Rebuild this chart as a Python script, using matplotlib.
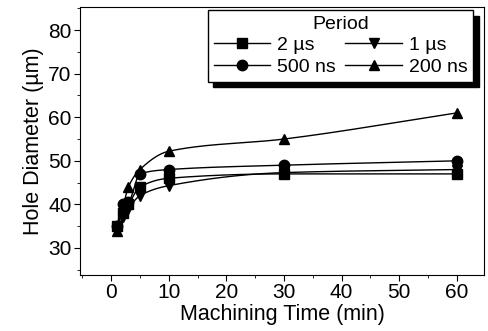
import numpy as np
import matplotlib
matplotlib.use("Agg")
import matplotlib.pyplot as plt
from matplotlib.ticker import MultipleLocator

plt.rcParams['font.family'] = ['Liberation Sans', 'DejaVu Sans']

time_min = [1, 2, 3, 5, 10, 30, 60]
d_2us = [35, 38, 40, 44, 46, 47, 47]
d_1us = [34, 37, 39, 42, 44.3, 47.3, 48]
d_500ns = [35, 40, 40.5, 47, 48, 49, 50]
d_200ns = [34, 39, 44, 48, 52.2, 55, 61]

# legend order (column-wise fill): 2 µs, 500 ns | 1 µs, 200 ns
series = [
    ("2 \u00b5s", d_2us, 's'),
    ("500 ns", d_500ns, 'o'),
    ("1 \u00b5s", d_1us, 'v'),
    ("200 ns", d_200ns, '^'),
]


def pchip(x, y, xs):
    x = np.asarray(x, float); y = np.asarray(y, float)
    h = np.diff(x); d = np.diff(y) / h
    n = len(x); m = np.zeros(n)
    for k in range(1, n - 1):
        if d[k - 1] * d[k] > 0:
            w1 = 2 * h[k] + h[k - 1]; w2 = h[k] + 2 * h[k - 1]
            m[k] = (w1 + w2) / (w1 / d[k - 1] + w2 / d[k])
    m[0] = d[0]; m[-1] = d[-1]
    idx = np.clip(np.searchsorted(x, xs) - 1, 0, n - 2)
    t = (xs - x[idx]) / h[idx]
    h00 = 2 * t**3 - 3 * t**2 + 1; h10 = t**3 - 2 * t**2 + t
    h01 = -2 * t**3 + 3 * t**2; h11 = t**3 - t**2
    return h00 * y[idx] + h10 * h[idx] * m[idx] + h01 * y[idx + 1] + h11 * h[idx] * m[idx + 1]


fig = plt.figure(figsize=(4.89, 3.31), dpi=100)
ax = fig.add_axes([80 / 489, 56 / 331, 404 / 489, 268 / 331])

xs = np.linspace(min(time_min), max(time_min), 400)
for label, vals, mk in series:
    ax.plot(xs, pchip(time_min, vals, xs), color='black', lw=1.0)
    ax.plot(time_min, vals, linestyle='none', marker=mk, color='black', markersize=7.5)
    ax.plot([], [], color='black', lw=1.0, marker=mk, markersize=7.5, label=label)

ax.set_xlim(-5.4, 64.7)
ax.set_ylim(23.8, 85.3)
ax.xaxis.set_major_locator(MultipleLocator(10))
ax.xaxis.set_minor_locator(MultipleLocator(5))
ax.yaxis.set_major_locator(MultipleLocator(10))
ax.yaxis.set_minor_locator(MultipleLocator(5))
ax.set_yticks([30, 40, 50, 60, 70, 80])
ax.tick_params(which='both', direction='out', top=False, right=False, labelsize=15, pad=2)
ax.tick_params(which='major', length=4)
ax.tick_params(which='minor', length=2)
ax.set_xlabel("Machining Time (min)", fontsize=15.5, labelpad=1)
ax.set_ylabel("Hole Diameter (\u00b5m)", fontsize=15.5, labelpad=3)

leg = ax.legend(ncol=2, title="Period", loc='upper right', fontsize=14, title_fontsize=14,
                frameon=True, fancybox=False, shadow={'color': 'black', 'alpha': 1, 'ox': 4, 'oy': -4},
                edgecolor='black', handlelength=2.9, columnspacing=0.5, handletextpad=0.35,
                labelspacing=0.2, borderpad=0.3, borderaxespad=0,
                bbox_to_anchor=(0.973, 0.989))
leg.get_frame().set_linewidth(1.0)

fig.savefig("out.png", dpi=100)
